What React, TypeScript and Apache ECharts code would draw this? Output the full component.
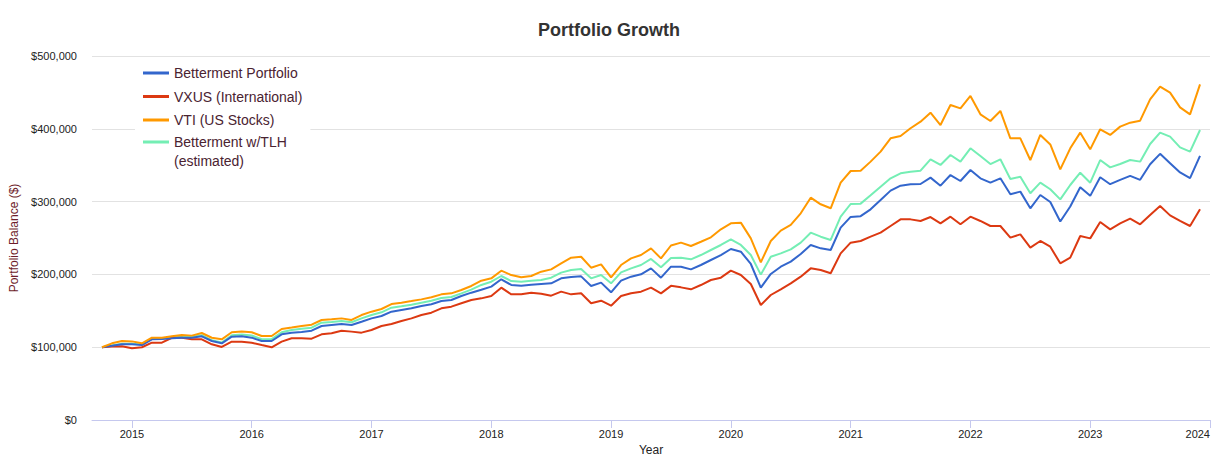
import React, { useEffect, useRef } from "react";
import * as echarts from "echarts";

// Monthly values (in $ thousands), Oct 2014 .. Dec 2023
const betterment = [
  100, 102.1, 104, 104, 103, 110.8, 111.3, 112.2, 113.1, 113.1, 115, 108.5, 105.3, 114.5, 115, 113.1, 108.5, 108.5, 117.7, 119.8,
  120.9, 122.7, 129.1, 130.5, 131.9, 130.5, 135, 139.6, 142.9, 148.8, 151.1, 153.4, 156.6, 158.9, 163.4, 164.8, 170.3, 174.9, 179, 183.2,
  193.3, 185.5, 184.5, 185.9, 186.8, 187.7, 194.6, 196.4, 197.3, 184.1, 188.7, 175.4, 191.4, 196.9, 200.1, 208.3, 195.5, 210.6, 210.6, 206.9,
  212.9, 219.8, 226.6, 234.9, 231.2, 214.3, 181.8, 200.6, 210.6, 217.5, 228, 240.4, 235.8, 233.5, 264.2, 279, 280, 289.4, 302.2, 315.1,
  321.9, 323.8, 324.2, 332.9, 321.9, 336.5, 328.3, 343.4, 332, 326, 332, 310, 313.7, 290.8, 309.1, 299.5, 272.6, 293.2, 319.8, 307.9,
  333.5, 323.9, 329.9, 335.4, 329.9, 351.4, 365.6, 352.8, 340, 332.2, 362.9,
];
const vxus = [
  100, 100.8, 101.2, 98.5, 99.9, 106.2, 106.2, 113, 113, 110.8, 110.8, 104, 100.3, 107.6, 107.6, 106.2, 103, 99.9, 107.6, 112.2,
  112.2, 111.7, 117.7, 119.1, 122.7, 121.4, 120, 123.6, 129.1, 131.9, 136, 139.6, 144.2, 147.4, 153.4, 155.7, 160.3, 164.8, 167.1, 170.3,
  181.8, 172.6, 172.6, 174.9, 173.5, 170.8, 176.3, 172.6, 174, 160.3, 163.9, 157, 170.3, 174, 176.3, 181.8, 174, 184.3, 182.2, 179.5,
  185.4, 192.3, 195.5, 205.1, 199.2, 186.8, 157.9, 171.7, 179.5, 187.7, 196.9, 208.3, 206, 201.5, 228.9, 243.6, 245.9, 251.8, 257.3, 266.5,
  275.6, 275.6, 273.4, 278.8, 270.1, 279.3, 268.8, 279.3, 273.4, 266.5, 266.5, 250.5, 255, 236.7, 245.9, 238, 215.2, 223, 252.7, 249.5,
  272, 261.9, 270.1, 276.5, 268.8, 281.6, 294, 281.1, 273.4, 266.5, 289.4,
];
const vti = [
  100, 105.3, 108.5, 108, 105.3, 113, 113, 114.9, 116.8, 115.9, 119.5, 113, 110.8, 120.5, 121.4, 120.5, 115.4, 115.4, 125, 127,
  129.1, 130.9, 137.4, 138.3, 139.6, 137.4, 144.2, 148.8, 152.5, 159.3, 161.2, 163.4, 165.7, 168.5, 172.6, 174, 178.6, 184.1, 191.4, 194.6,
  205.1, 199.1, 196, 197.8, 203.7, 206.9, 215.1, 222.9, 224.3, 209.2, 213.8, 196, 212.9, 222, 226.6, 235.7, 222, 239.7, 243.6, 239,
  244.9, 250.9, 261.9, 270.1, 271.1, 249.5, 216.6, 245.9, 260.1, 267.9, 283.9, 305.4, 296.3, 290.8, 326, 342, 342.5, 354.9, 368.6, 386.9,
  390.1, 400.7, 409.8, 422.2, 405.2, 432.7, 428.1, 445.1, 419.9, 410.7, 424.5, 386.9, 386.9, 357.1, 391.5, 378.5, 344.3, 373.2, 394.7, 371.8,
  399.3, 391.5, 403, 408.4, 411.2, 440.5, 457.9, 449.7, 429.5, 419.9, 461.1,
];
const tlh = [
  100, 102.3, 104.8, 104.8, 103.8, 111.5, 112, 113.3, 114.3, 114.3, 116.5, 109.5, 106.5, 116.5, 117.5, 116, 111, 111, 120.5, 123.6,
  125.4, 126.8, 133.7, 134.6, 136, 134.2, 139.6, 144.2, 147.9, 154.3, 156.1, 158.4, 161.2, 163.9, 167.6, 169, 174, 179.1, 185.5, 190,
  197.8, 190.9, 190, 191.4, 192.3, 195.5, 202.4, 206, 207.4, 194.6, 199.1, 187.7, 202.8, 208.3, 212.9, 221.2, 209.7, 222.5, 223, 220.7,
  226.6, 233.5, 240.4, 248.2, 240.4, 226.6, 199.7, 224.3, 228.9, 234.4, 243.6, 257.3, 251.8, 247.3, 279.3, 296.7, 297.2, 308.6, 320.5, 332,
  338.8, 341.1, 342.5, 358.1, 350.3, 364, 354.9, 373.2, 362.6, 351.6, 358.1, 331.1, 334.2, 311.4, 326, 317, 303.1, 322.8, 339.7, 326,
  357.1, 347, 351.6, 357.1, 354.9, 379.1, 394.7, 389.2, 374.5, 368.6, 398.4,
];

const seriesNames = [
  "Betterment Portfolio",
  "VXUS (International)",
  "VTI (US Stocks)",
  "Betterment w/TLH (estimated)",
];
const seriesColors = ["#3366cc", "#dc3912", "#ff9900", "#74eeb4"];

// Category axis: Sep 2014 .. Jan 2024 (year ticks at each January)
const months: string[] = [];
for (let k = 0; k < 113; k++) {
  const m = 8 + k;
  const y = 2014 + Math.floor(m / 12);
  const mm = (m % 12) + 1;
  months.push(`${y}-${mm < 10 ? "0" + mm : mm}`);
}
const yearTicks = ["2015", "2016", "2017", "2018", "2019", "2020", "2021", "2022", "2023", "2024"];

const FONT = 'Arial, "Liberation Sans", sans-serif';

const isYearTick = (_i: number, v: string) =>
  v.endsWith("-01") && yearTicks.includes(v.slice(0, 4));

const pad = (arr: number[]) => [null, ...arr.map((v) => Math.round(v * 1000)), null];

const iconMid = "path://M0,0H26V0.01H0Z M0,9.5H26V12.5H0Z M0,21.99H26V22H0Z";
const iconTop = "path://M0,0H26V3H0Z M0,21.99H26V22H0Z";

export default function App() {
  const ref = useRef<HTMLDivElement>(null);
  useEffect(() => {
    document.body.style.margin = "0";
    if (!ref.current) return;
    const chart = echarts.init(ref.current, null, { renderer: "svg" });
    const dataArr = [betterment, vxus, vti, tlh];
    const drawOrder = [3, 1, 0, 2];
    chart.setOption({
      animation: false,
      backgroundColor: "#ffffff",
      title: {
        text: "Portfolio Growth",
        left: "center",
        top: 20,
        padding: 0,
        textStyle: { fontSize: 18, fontWeight: "bold", color: "#333", fontFamily: FONT, lineHeight: 20 },
      },
      legend: {
        orient: "vertical",
        left: 135,
        top: 58,
        padding: [4, 8, 6, 8],
        backgroundColor: "#ffffff",
        itemWidth: 26,
        itemHeight: 22,
        itemGap: 1.5,
        selectedMode: false,
        itemStyle: { borderWidth: 0 },
        textStyle: { fontSize: 14, lineHeight: 19, color: "#4a2331", fontFamily: FONT },
        formatter: (name: string) =>
          name === seriesNames[3] ? "Betterment w/TLH\n(estimated)" : name,
        data: seriesNames.map((n, i) => ({ name: n, icon: i === 3 ? iconTop : iconMid })),
      },
      grid: { left: 92, right: 8, top: 56, bottom: 36, containLabel: false, outerBoundsMode: "none" },
      xAxis: {
        type: "category",
        data: months,
        boundaryGap: false,
        name: "Year",
        nameLocation: "middle",
        nameGap: 24,
        nameTextStyle: { fontSize: 12, color: "#222", fontFamily: FONT },
        axisLine: { show: true, lineStyle: { color: "#c5c8ee", width: 1 } },
        axisTick: { show: true, interval: isYearTick, length: 8, lineStyle: { color: "#c5c8ee" } },
        axisLabel: {
          interval: isYearTick,
          formatter: (v: string) => v.slice(0, 4),
          fontSize: 11,
          color: "#222",
          fontFamily: FONT,
          margin: 8,
          alignMaxLabel: "right",
        },
        splitLine: { show: false },
      },
      yAxis: {
        type: "value",
        min: 0,
        max: 500000,
        interval: 100000,
        name: "Portfolio Balance ($)",
        nameLocation: "middle",
        nameGap: 72,
        nameTextStyle: { fontSize: 12, color: "#6e1d2a", fontFamily: FONT },
        axisLine: { show: false },
        axisTick: { show: false },
        axisLabel: {
          fontSize: 11,
          color: "#222",
          fontFamily: FONT,
          margin: 15,
          formatter: (v: number) => "$" + v.toLocaleString("en-US"),
        },
        splitLine: { show: true, lineStyle: { color: "#e2e2e2", width: 1 } },
      },
      series: drawOrder.map((i) => ({
        name: seriesNames[i],
        type: "line",
        data: pad(dataArr[i]),
        symbol: "none",
        showSymbol: false,
        color: seriesColors[i],
        lineStyle: { width: 2, color: seriesColors[i] },
        emphasis: { disabled: true },
        silent: true,
      })),
    });
    return () => chart.dispose();
  }, []);
  return <div ref={ref} style={{ width: 1218, height: 456 }} />;
}
